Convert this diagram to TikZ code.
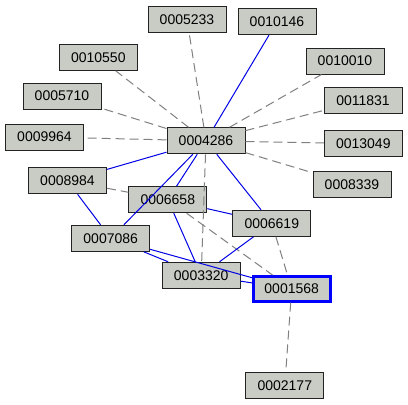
\documentclass[tikz,border=0pt]{standalone}
\usepackage{fontspec}
\setmainfont{Liberation Sans}
\definecolor{boxfill}{RGB}{201,203,197}
\definecolor{boxline}{RGB}{35,35,35}
\definecolor{dashgray}{RGB}{128,128,128}
\definecolor{edgeblue}{RGB}{0,0,230}
\pgfdeclarelayer{background}
\pgfsetlayers{background,main}
\begin{document}
\begin{tikzpicture}[x=1pt,y=-1pt,
  nbox/.style={draw=boxline,fill=boxfill,line width=1pt,minimum width=78pt,minimum height=26pt,inner sep=0pt,font=\fontsize{14}{16}\selectfont},
  focus/.style={nbox,draw=blue,line width=2.6pt,minimum width=77pt,minimum height=25pt},
  weak/.style={draw=dashgray,line width=1pt,dash pattern=on 9pt off 5pt},
  strong/.style={draw=edgeblue,line width=1pt}]
\fill[white] (0,0) rectangle (408,405);
\useasboundingbox (0,0) rectangle (408,405);
\node[nbox] (n5233) at (187,19.2) {0005233};
\node[nbox] (n10146) at (277,21.7) {0010146};
\node[nbox] (n10550) at (98.3,57.3) {0010550};
\node[nbox] (n10010) at (345,61) {0010010};
\node[nbox] (n5710) at (62,96) {0005710};
\node[nbox] (n11831) at (363,100.3) {0011831};
\node[nbox] (n9964) at (44.5,137) {0009964};
\node[nbox] (n4286) at (206,140.8) {0004286};
\node[nbox] (n13049) at (363.3,143.7) {0013049};
\node[nbox] (n8339) at (352,184.5) {0008339};
\node[nbox] (n8984) at (67.5,180.8) {0008984};
\node[nbox] (n6658) at (167.8,199.7) {0006658};
\node[nbox] (n6619) at (271.8,223.3) {0006619};
\node[nbox] (n7086) at (110.7,238.3) {0007086};
\node[nbox] (n3320) at (201.2,275.3) {0003320};
\node[focus] (n1568) at (291.7,288.8) {0001568};
\node[nbox] (n2177) at (284.8,385.3) {0002177};
\begin{pgfonlayer}{background}
\draw[weak] (n4286) -- (n1568);
\end{pgfonlayer}
% dashed edges
\draw[weak] (n4286) -- (n5233);
\draw[weak] (n4286) -- (n10550);
\draw[weak] (n4286) -- (n5710);
\draw[weak] (n4286) -- (n9964);
\draw[weak] (n4286) -- (n10010);
\draw[weak] (n4286) -- (n11831);
\draw[weak] (n4286) -- (n13049);
\draw[weak] (n4286) -- (n8339);
\draw[weak] (n4286) -- (n3320);
\draw[weak] (n8984) -- (n6658);
\draw[weak] (n6658) -- (n1568);
\draw[weak] (n6619) -- (n1568);
\draw[weak] (n1568) -- (n2177);
% solid blue edges
\draw[strong] (n4286) -- (n10146);
\draw[strong] (n4286) -- (n8984);
\draw[strong] (n4286) -- (n7086);
\draw[strong] (n4286) -- (n6658);
\draw[strong] (n4286) -- (n6619);
\draw[strong] (n8984) -- (n7086);
\draw[strong] (n6658) -- (n6619);
\draw[strong] (n6658) -- (n3320);
\draw[strong] (n6619) -- (n3320);
\draw[strong] (n7086) -- (n3320);
\draw[strong] (n7086) -- (n1568);
\draw[strong] (n3320) -- (n1568);
\end{tikzpicture}
\end{document}
